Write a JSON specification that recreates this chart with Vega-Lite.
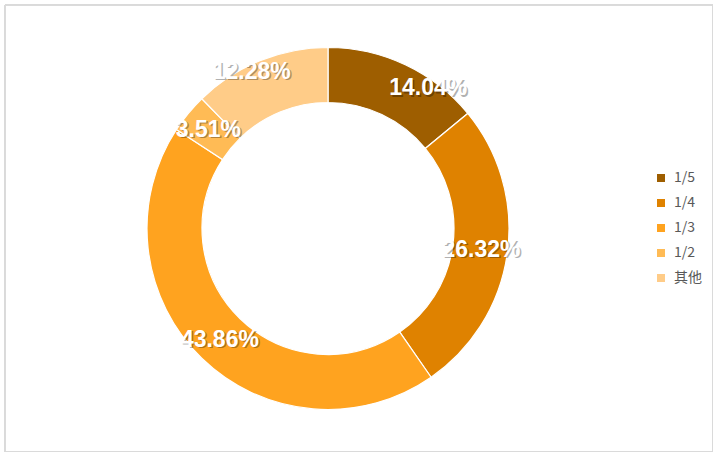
{
  "$schema": "https://vega.github.io/schema/vega-lite/v6.json",
  "width": 708,
  "height": 447,
  "padding": {"left": 5, "top": 5, "right": 0, "bottom": 0},
  "autosize": {"type": "none"},
  "background": "#ffffff",
  "data": {
    "values": [
      {"cat": "1/5", "ord": 1, "pct": 14.04, "label": "14.04%"},
      {"cat": "1/4", "ord": 2, "pct": 26.32, "label": "26.32%"},
      {"cat": "1/3", "ord": 3, "pct": 43.86, "label": "43.86%"},
      {"cat": "1/2", "ord": 4, "pct": 3.51, "label": "3.51%"},
      {"cat": "其他", "ord": 5, "pct": 12.28, "label": "12.28%"}
    ]
  },
  "layer": [
    {
      "mark": {"type": "rect", "fill": null, "stroke": "#d9d9d9", "strokeWidth": 1},
      "encoding": {}
    },
    {
      "encoding": {
        "theta": {"field": "pct", "type": "quantitative", "stack": true},
        "order": {"field": "ord", "type": "quantitative"},
        "color": {
          "field": "cat",
          "type": "nominal",
          "sort": ["1/5", "1/4", "1/3", "1/2", "其他"],
          "scale": {
            "domain": ["1/5", "1/4", "1/3", "1/2", "其他"],
            "range": ["#9e5e00", "#df8200", "#ffa31f", "#ffbb55", "#ffcc88"]
          },
          "legend": {
            "title": null,
            "orient": "none",
            "legendX": 649,
            "legendY": 166,
            "symbolType": "square",
            "symbolSize": 64,
            "symbolStrokeWidth": 0,
            "labelFont": "Noto Sans CJK SC",
            "labelFontSize": 14,
            "labelColor": "#595959",
            "rowPadding": 11,
            "labelOffset": 6,
            "padding": 0
          }
        }
      },
      "layer": [
        {
          "mark": {"type": "arc", "outerRadius": 181, "innerRadius": 126, "stroke": "#ffffff", "strokeWidth": 1.2, "x": {"expr": "width/2 - 31"}}
        },
        {
          "mark": {"type": "text", "radius": 155, "x": {"expr": "width/2 - 31"}, "dx": {"expr": "(datum.ord == 1 ? 34 : datum.ord == 5 ? -18 : 0) + 1.5"}, "dy": {"expr": "(datum.ord == 5 ? -13 : 0) + 1.5"}, "font": "Liberation Sans", "fontWeight": "bold", "fontSize": 23, "opacity": 0.3},
          "encoding": {"text": {"field": "label"}, "color": {"value": "#000000"}}
        },
        {
          "mark": {"type": "text", "radius": 155, "x": {"expr": "width/2 - 31"}, "dx": {"expr": "datum.ord == 1 ? 34 : datum.ord == 5 ? -18 : 0"}, "dy": {"expr": "datum.ord == 5 ? -13 : 0"}, "font": "Liberation Sans", "fontWeight": "bold", "fontSize": 23},
          "encoding": {"text": {"field": "label"}, "color": {"value": "#ffffff"}}
        }
      ]
    }
  ]
}
